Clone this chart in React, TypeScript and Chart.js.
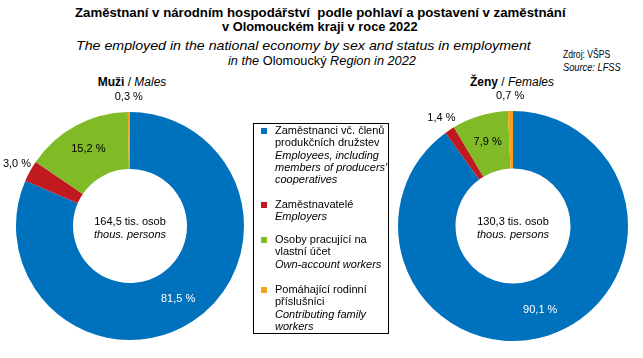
import React, { useEffect, useLayoutEffect, useRef } from "react";
import { Chart, registerables } from "chart.js";

Chart.register(...registerables);

const categoriesCz = [
  "Zaměstnanci vč. členů produkčních družstev",
  "Zaměstnavatelé",
  "Osoby pracující na vlastní účet",
  "Pomáhající rodinní příslušníci",
];
const malesValues = [81.5, 3.0, 15.2, 0.3];
const femalesValues = [90.1, 1.4, 7.9, 0.7];
const malesTotal = "164,5";
const femalesTotal = "130,3";
const colors = ["#0071BC", "#C0191F", "#80BA27", "#F7A11A"];
const labelColors = ["#FFFFFF", "#000000", "#000000", "#000000"];

const FONT = "'Liberation Sans', Arial, sans-serif";

const labelPlugin = {
  id: "sliceLabels",
  afterDraw(chart: any) {
    const ctx = chart.ctx;
    const meta = chart.getDatasetMeta(0);
    const data = chart.data.datasets[0].data as number[];
    const total = (chart.options.plugins as any).sliceLabels.total as string;
    ctx.save();
    ctx.textAlign = "center";
    ctx.textBaseline = "middle";
    meta.data.forEach((arc: any, i: number) => {
      const { startAngle, endAngle, innerRadius, outerRadius, x, y } = arc.getProps(
        ["startAngle", "endAngle", "innerRadius", "outerRadius", "x", "y"],
        true
      );
      const mid = (startAngle + endAngle) / 2;
      const v = data[i];
      const inside = v >= 5;
      const r = inside ? (innerRadius + outerRadius) / 2 + 2 : outerRadius + 15;
      const lx = x + Math.cos(mid) * r;
      const ly = y + Math.sin(mid) * r;
      ctx.font = `11px ${FONT}`;
      ctx.fillStyle = inside ? labelColors[i] : "#000000";
      ctx.fillText(v.toFixed(1).replace(".", ",") + " %", lx, ly);
    });
    const cx = meta.data[0].x;
    const cy = meta.data[0].y;
    ctx.fillStyle = "#000000";
    ctx.font = `11px ${FONT}`;
    ctx.fillText(total + " tis. osob", cx, cy - 4);
    ctx.font = `italic 11px ${FONT}`;
    ctx.fillText("thous. persons", cx, cy + 9);
    ctx.restore();
  },
};

function Donut(props: {
  values: number[];
  total: string;
  left: number;
  top: number;
  width: number;
  height: number;
  padding: { left: number; right: number; top: number; bottom: number };
}) {
  const ref = useRef<HTMLCanvasElement>(null);
  useEffect(() => {
    const chart = new Chart(ref.current!, {
      type: "doughnut",
      data: {
        labels: categoriesCz,
        datasets: [
          {
            data: props.values,
            backgroundColor: colors,
            borderWidth: 0,
            hoverOffset: 0,
          },
        ],
      },
      options: {
        animation: false,
        responsive: false,
        maintainAspectRatio: false,
        cutout: "50%",
        layout: { padding: props.padding },
        plugins: {
          legend: { display: false },
          tooltip: { enabled: false },
          sliceLabels: { total: props.total },
        } as any,
      },
      plugins: [labelPlugin],
    });
    return () => chart.destroy();
  }, []);
  return (
    <canvas
      ref={ref}
      width={props.width}
      height={props.height}
      style={{ position: "absolute", left: props.left, top: props.top, width: props.width, height: props.height }}
    />
  );
}

// A single line of text squeezed horizontally to a target width (the original uses a narrow face).
function FitLine(props: { left: number; top: number; width: number; style: React.CSSProperties; children: React.ReactNode }) {
  const ref = useRef<HTMLSpanElement>(null);
  useLayoutEffect(() => {
    const el = ref.current!;
    const w = el.offsetWidth;
    if (w > 0) el.style.transform = `scaleX(${props.width / w})`;
  }, []);
  return (
    <span
      ref={ref}
      style={{
        position: "absolute",
        left: props.left,
        top: props.top,
        whiteSpace: "nowrap",
        transformOrigin: "0 0",
        display: "inline-block",
        ...props.style,
      }}
    >
      {props.children}
    </span>
  );
}

const legendItem = (i: number, czLines: string[], enLines: string[], top: number) => (
  <div key={i} style={{ position: "absolute", left: 0, top, width: 135 }}>
    <div
      style={{
        position: "absolute",
        left: 7,
        top: 4,
        width: 6,
        height: 6,
        background: colors[i],
      }}
    />
    <div style={{ position: "absolute", left: 21, top: 0, lineHeight: "12.3px", fontSize: 11, whiteSpace: "nowrap" }}>
      {czLines.map((l, k) => (
        <div key={"c" + k}>{l}</div>
      ))}
      {enLines.map((l, k) => (
        <div key={"e" + k} style={{ fontStyle: "italic" }}>
          {l}
        </div>
      ))}
    </div>
  </div>
);

export default function App() {
  const titleBold: React.CSSProperties = { fontWeight: "bold", fontSize: 13.3, lineHeight: "14px" };
  const titleItal: React.CSSProperties = { fontStyle: "italic", fontSize: 13.3, lineHeight: "14px" };
  const src: React.CSSProperties = { fontSize: 11.5, lineHeight: "12px" };
  return (
    <div
      style={{
        position: "absolute",
        left: 0,
        top: 0,
        width: 643,
        height: 358,
        background: "#fff",
        fontFamily: FONT,
        color: "#000",
        overflow: "hidden",
      }}
    >
      <FitLine left={75} top={6} width={491} style={titleBold}>
        Zaměstnaní v národním hospodářství&nbsp; podle pohlaví a postavení v zaměstnání
      </FitLine>
      <FitLine left={222} top={20} width={196} style={titleBold}>
        v Olomouckém kraji v roce 2022
      </FitLine>
      <FitLine left={76} top={39} width={455} style={titleItal}>
        The employed in the national economy by sex and status in employment
      </FitLine>
      <FitLine left={228} top={54} width={188} style={titleItal}>
        in the <span style={{ fontStyle: "normal" }}>Olomoucký</span> Region in 2022
      </FitLine>
      <FitLine left={563} top={48} width={47} style={src}>
        Zdroj: VŠPS
      </FitLine>
      <FitLine left={563} top={61} width={58} style={{ ...src, fontStyle: "italic" }}>
        Source: LFSS
      </FitLine>

      <div style={{ position: "absolute", left: 70, width: 124, top: 75, textAlign: "center", fontSize: 12 }}>
        <b>Muži</b> / <i>Males</i>
      </div>
      <div style={{ position: "absolute", left: 450, width: 124, top: 75, textAlign: "center", fontSize: 12 }}>
        <b>Ženy</b> / <i>Females</i>
      </div>

      <Donut
        values={malesValues}
        total={malesTotal}
        left={0}
        top={80}
        width={260}
        height={278}
        padding={{ left: 16, right: 16, top: 32, bottom: 18 }}
      />
      <Donut
        values={femalesValues}
        total={femalesTotal}
        left={390}
        top={80}
        width={253}
        height={278}
        padding={{ left: 8, right: 15, top: 31, bottom: 17 }}
      />

      <div
        style={{
          position: "absolute",
          left: 253,
          top: 123,
          width: 134,
          height: 209,
          border: "1px solid #000",
        }}
      >
        {legendItem(0, ["Zaměstnanci vč. členů", "produkčních družstev"], ["Employees, including", "members of producers'", "cooperatives"], 0)}
        {legendItem(1, ["Zaměstnavatelé"], ["Employers"], 74)}
        {legendItem(2, ["Osoby pracující na", "vlastní účet"], ["Own-account workers"], 109)}
        {legendItem(3, ["Pomáhající  rodinní", "příslušníci"], ["Contributing family", "workers"], 159)}
      </div>
    </div>
  );
}
